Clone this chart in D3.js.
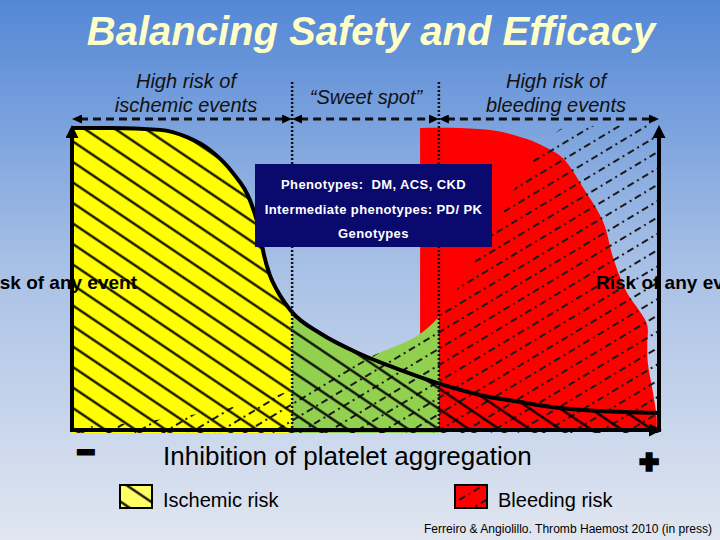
<!DOCTYPE html>
<html>
<head>
<meta charset="utf-8">
<script src="https://cdn.jsdelivr.net/npm/d3@7"></script>
<style>
  html, body { margin: 0; padding: 0; overflow: hidden; }
  svg { display: block; font-family: "Liberation Sans", Arial, sans-serif; }
</style>
</head>
<body>
<svg id="chart" width="720" height="540"></svg>
<script>
// inhibition axis runs 0 (none) .. 100 (full); risk axis 0 .. 100
const zoneEdges = [0, 37.5, 62.5, 100];
const zoneLabels = [
  ['High risk of', 'ischemic events'],
  ['\u201cSweet spot\u201d'],
  ['High risk of', 'bleeding events']
];

// ischemic risk falls as inhibition rises: [inhibition, risk]
const ischemicCurve = [
  [0, 99], [6.5, 99], [15, 98.4], [19.6, 96], [23.5, 91.8], [27.4, 84.3],
  [30.3, 75.4], [31.9, 65.6], [32.7, 57.4], [33.7, 50.8], [34.9, 45.9],
  [36.3, 41.6], [37.6, 38.4], [42.2, 31.8], [49.1, 24.9], [55.9, 19.7],
  [62.7, 15.1], [69.5, 11.5], [76.3, 9.2], [83.1, 7.2], [89.9, 6.2], [100, 5.6]
];

// upper edge of the bleeding hatch
const bleedingCurve = [
  [0, 0.7], [13.3, 3], [25.2, 6.6], [37.6, 13.1], [45.7, 19], [50.8, 23.9],
  [62.4, 37], [66.1, 47.5], [71.2, 63.9], [76.3, 82], [80.6, 93.4], [84, 99.3], [100, 100]
];

// outline of the red bleeding block, from its bottom-left corner round to bottom-right
const bleedingBlock = [
  [59.3, 0], [59.3, 99], [66.1, 99], [72.4, 98], [77.5, 95.4], [80.6, 92.8],
  [83.6, 89.2], [87, 79.7], [90.5, 68.2], [92.2, 56.4], [94.5, 45.2],
  [96.8, 38.7], [98, 34.4], [98, 27.9], [98.1, 22], [98.9, 13.1], [99.6, 4.3], [99.6, 0]
];

const boxLines = ['Phenotypes:  DM, ACS, CKD', 'Intermediate phenotypes: PD/ PK', 'Genotypes'];
const sideLabel = 'Risk of any event';
const axisTitle = 'Inhibition of platelet aggregation';
const legendLabels = ['Ischemic risk', 'Bleeding risk'];
const titleText = 'Balancing Safety and Efficacy';
const sourceText = 'Ferreiro & Angiolillo. Thromb Haemost 2010 (in press)';

const W = 720, H = 540;

const svg = d3.select('#chart');
const defs = svg.append('defs');

// background
const bg = defs.append('linearGradient').attr('id', 'bg')
  .attr('x1', 0).attr('y1', 0).attr('x2', 0).attr('y2', 1);
bg.append('stop').attr('offset', '0%').attr('stop-color', '#5387d6');
bg.append('stop').attr('offset', '50%').attr('stop-color', '#a9c1e6');
bg.append('stop').attr('offset', '100%').attr('stop-color', '#e1e6f0');
svg.append('rect').attr('width', W).attr('height', H).attr('fill', 'url(#bg)');

const x = d3.scaleLinear().domain([0, 100]).range([72, 659]);
const y = d3.scaleLinear().domain([0, 100]).range([430, 125]);

// hatch patterns
const hatchIsch = defs.append('pattern').attr('id', 'hatchIsch')
  .attr('patternUnits', 'userSpaceOnUse')
  .attr('width', 10).attr('height', 17)
  .attr('patternTransform', 'rotate(34)');
hatchIsch.append('line')
  .attr('x1', 0).attr('x2', 10).attr('y1', 8.5).attr('y2', 8.5)
  .attr('stroke', '#000').attr('stroke-width', 2.2);

const hatchBleed = defs.append('pattern').attr('id', 'hatchBleed')
  .attr('patternUnits', 'userSpaceOnUse')
  .attr('width', 17).attr('height', 14)
  .attr('patternTransform', 'rotate(-31)');
hatchBleed.append('line')
  .attr('x1', 0).attr('x2', 17).attr('y1', 7).attr('y2', 7)
  .attr('stroke', '#1a1a1a').attr('stroke-width', 1.8)
  .attr('stroke-dasharray', '7,4,2,4');

// one clip per zone
zoneEdges.slice(0, -1).forEach((lo, i) => {
  defs.append('clipPath').attr('id', 'zone' + i)
    .append('rect')
    .attr('x', x(lo)).attr('y', 0)
    .attr('width', x(zoneEdges[i + 1]) - x(lo)).attr('height', H);
});
defs.append('clipPath').attr('id', 'plot')
  .append('rect').attr('x', x(0)).attr('y', 0).attr('width', x(100) - x(0)).attr('height', H);

const areaUnder = d3.area()
  .x(d => x(d[0])).y0(y(-1)).y1(d => y(d[1]))
  .curve(d3.curveMonotoneX);
const lineOf = d3.line()
  .x(d => x(d[0])).y(d => y(d[1]))
  .curve(d3.curveMonotoneX);
const outline = d3.line()
  .x(d => x(d[0])).y(d => y(d[1]))
  .curve(d3.curveCatmullRom.alpha(0.5));

// red bleeding block: straight left edge, smooth top and right side
const [b0, ...bRest] = bleedingBlock;
svg.append('path')
  .attr('d', `M${x(b0[0])},${y(b0[1])}` + outline(bRest).replace(/^M/, 'L') + 'Z')
  .attr('fill', '#ff0000');

// yellow: ischemic zone
svg.append('path')
  .attr('clip-path', 'url(#zone0)')
  .attr('d', areaUnder(ischemicCurve))
  .attr('fill', '#ffff00');

// green: sweet spot, union of both risks
const green = svg.append('g').attr('clip-path', 'url(#zone1)');
[ischemicCurve, bleedingCurve].forEach(c => {
  green.append('path').attr('d', areaUnder(c)).attr('fill', '#92d050');
});

// hatches
svg.append('path')
  .attr('clip-path', 'url(#plot)')
  .attr('d', areaUnder(bleedingCurve))
  .attr('fill', 'url(#hatchBleed)');
svg.append('path')
  .attr('clip-path', 'url(#plot)')
  .attr('d', areaUnder(ischemicCurve))
  .attr('fill', 'url(#hatchIsch)');

// ischemic curve
svg.append('path')
  .attr('d', lineOf(ischemicCurve))
  .attr('fill', 'none')
  .attr('stroke', '#000')
  .attr('stroke-width', 4)
  .attr('stroke-linejoin', 'round');

// dotted zone borders
svg.selectAll('.zone-border')
  .data(zoneEdges.slice(1, -1))
  .enter().append('line')
  .attr('class', 'zone-border')
  .attr('x1', d => x(d)).attr('x2', d => x(d))
  .attr('y1', 82).attr('y2', y(0))
  .attr('stroke', '#111')
  .attr('stroke-width', 2.5)
  .attr('stroke-dasharray', '2,2');

// arrow markers
function marker(id, len, wid) {
  defs.append('marker').attr('id', id)
    .attr('markerUnits', 'userSpaceOnUse')
    .attr('viewBox', `0 0 ${len} ${wid}`)
    .attr('markerWidth', len).attr('markerHeight', wid)
    .attr('refX', 2).attr('refY', wid / 2)
    .attr('orient', 'auto-start-reverse')
    .append('path')
    .attr('d', `M0,0L${len},${wid / 2}L0,${wid}Z`)
    .attr('fill', '#000');
}
marker('arrowBig', 13, 13);
marker('arrowSmall', 10, 9);

// axes
const axes = svg.append('g').attr('stroke', '#000').attr('stroke-width', 4);
axes.append('line')
  .attr('x1', x(0)).attr('y1', y(0) + 2).attr('x2', x(0)).attr('y2', y(100) + 11)
  .attr('marker-end', 'url(#arrowBig)');
axes.append('line')
  .attr('x1', x(100)).attr('y1', y(0) + 2).attr('x2', x(100)).attr('y2', y(100) + 11)
  .attr('marker-end', 'url(#arrowBig)');
axes.append('line')
  .attr('x1', x(0) - 2).attr('y1', y(0)).attr('x2', x(100) - 8).attr('y2', y(0))
  .attr('marker-end', 'url(#arrowBig)');

// dashed zone arrows
const DASH_Y = 119;
svg.selectAll('.zone-arrow')
  .data(zoneEdges.slice(0, -1).map((lo, i) => [lo, zoneEdges[i + 1]]))
  .enter().append('line')
  .attr('class', 'zone-arrow')
  .attr('x1', d => x(d[0]) + 8).attr('x2', d => x(d[1]) - 8)
  .attr('y1', DASH_Y).attr('y2', DASH_Y)
  .attr('stroke', '#111')
  .attr('stroke-width', 3)
  .attr('stroke-dasharray', '8,5')
  .attr('marker-start', 'url(#arrowSmall)')
  .attr('marker-end', 'url(#arrowSmall)');

// zone labels
const labelX = [186, 366, 556];
const labelY = [[88, 112], [104], [88, 112]];
zoneLabels.forEach((lines, i) => {
  lines.forEach((t, j) => {
    svg.append('text')
      .attr('x', labelX[i]).attr('y', labelY[i][j])
      .attr('text-anchor', 'middle')
      .attr('font-style', 'italic')
      .attr('font-size', 20)
      .attr('fill', '#111')
      .text(t);
  });
});

// phenotype box
svg.append('rect')
  .attr('x', 255).attr('y', 164).attr('width', 237).attr('height', 83)
  .attr('fill', '#0a0a6e');
boxLines.forEach((t, i) => {
  svg.append('text')
    .attr('x', 373.5).attr('y', 189 + i * 24.5)
    .attr('text-anchor', 'middle')
    .attr('font-weight', 'bold')
    .attr('font-size', 13)
    .attr('letter-spacing', 0.4)
    .attr('fill', '#fff')
    .style('white-space', 'pre')
    .text(t);
});

// side labels (they run off the slide edges, as in the original)
svg.append('text')
  .attr('x', 137).attr('y', 289)
  .attr('text-anchor', 'end')
  .attr('font-weight', 'bold').attr('font-size', 19)
  .attr('fill', '#000')
  .text(sideLabel);
svg.append('text')
  .attr('x', 596).attr('y', 289)
  .attr('font-weight', 'bold').attr('font-size', 19)
  .attr('fill', '#000')
  .text(sideLabel);

// axis title with - and +
svg.append('text')
  .attr('x', 163).attr('y', 465)
  .attr('font-size', 26)
  .attr('fill', '#000')
  .text(axisTitle);
svg.append('text')
  .attr('x', 86).attr('y', 462)
  .attr('text-anchor', 'middle')
  .attr('font-weight', 'bold').attr('font-size', 30)
  .attr('fill', '#000').attr('stroke', '#000').attr('stroke-width', 3)
  .text('\u2212');
svg.append('text')
  .attr('x', 649).attr('y', 472)
  .attr('text-anchor', 'middle')
  .attr('font-weight', 'bold').attr('font-size', 32)
  .attr('fill', '#000').attr('stroke', '#000').attr('stroke-width', 3.5)
  .text('+');

// legend
const legendX = [120, 455];
const legendFill = ['#ffff66', '#ff0000'];
const legendHatch = ['url(#hatchIsch)', 'url(#hatchBleed)'];
legendLabels.forEach((t, i) => {
  const g = svg.append('g');
  g.append('rect')
    .attr('x', legendX[i]).attr('y', 485).attr('width', 32).attr('height', 23)
    .attr('fill', legendFill[i]);
  g.append('rect')
    .attr('x', legendX[i]).attr('y', 485).attr('width', 32).attr('height', 23)
    .attr('fill', legendHatch[i])
    .attr('stroke', '#000').attr('stroke-width', 2);
  g.append('text')
    .attr('x', legendX[i] + 43).attr('y', 507)
    .attr('font-size', 20)
    .attr('fill', '#000')
    .text(t);
});

// title and source
svg.append('text')
  .attr('x', 371).attr('y', 45)
  .attr('text-anchor', 'middle')
  .attr('font-weight', 'bold').attr('font-style', 'italic')
  .attr('font-size', 40)
  .attr('fill', '#ffffc8')
  .text(titleText);
svg.append('text')
  .attr('x', 712).attr('y', 533)
  .attr('text-anchor', 'end')
  .attr('font-size', 12)
  .attr('textLength', 288).attr('lengthAdjust', 'spacingAndGlyphs')
  .attr('fill', '#000')
  .text(sourceText);
</script>
</body>
</html>
